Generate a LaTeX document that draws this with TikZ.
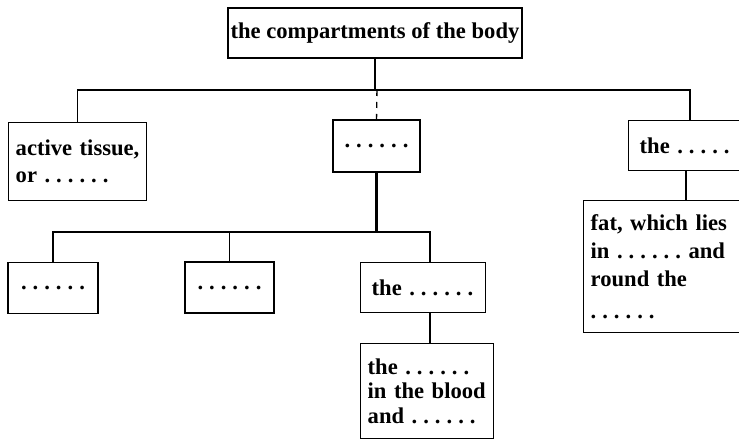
\documentclass[tikz,border=0pt]{standalone}
\usepackage{fontspec}
\setmainfont{Liberation Serif}
\usetikzlibrary{calc}
\newcommand{\blankdots}{\mbox{.\hspace{3pt}.\hspace{3pt}.\hspace{3pt}.\hspace{3pt}.\hspace{3pt}.}}
\tikzset{
  box/.style={draw,line width=0.7pt,inner sep=0pt,align=center,
    font=\fontsize{11.3}{13.5}\selectfont\bfseries},
  lbox/.style={box,align=left,inner sep=3.5pt,anchor=north west},
  link/.style={line width=0.7pt},
  bus/.style={line width=0.6pt}
}
\begin{document}
\begin{tikzpicture}[x=0.5pt,y=-0.5pt]
 \useasboundingbox (0,0) rectangle (739,448);
 \clip (0,0) rectangle (739,448);
 % first level
 \node[box,minimum width=147pt,minimum height=25pt] (body) at (375,33)
   {the compartments of the body};
 \node[lbox,minimum height=39pt,text width=62pt] (active) at (8,122)
   {active tissue,\\ or \blankdots};
 \node[box,minimum width=43.5pt,minimum height=26pt] (middle) at (376.5,146) {\blankdots};
 % these two run past the page edge
 \node[lbox,minimum height=25pt,text width=70pt,inner xsep=5.5pt] (right) at (628,120)
   {the \mbox{.\hspace{3pt}.\hspace{3pt}.\hspace{3pt}.\hspace{3pt}.}};
 \node[lbox,minimum height=66pt,text width=80pt,
   font=\fontsize{11.3}{14}\selectfont\bfseries] (fat) at (583,200)
   {\makebox[72pt][s]{fat, which lies}\\ \makebox[72pt][s]{in \blankdots\ and}\\
    round the\\[2pt] \blankdots};
 % second level
 \node[box,minimum width=45pt,minimum height=25.5pt] (lowa) at (53,288) {\blankdots};
 \node[box,minimum width=44.5pt,minimum height=25.5pt] (lowb) at (229.5,287.5) {\blankdots};
 \node[lbox,minimum height=25pt,text width=51.5pt,inner xsep=5.5pt] (lowc) at (360,262)
   {the \blankdots};
 \node[lbox,minimum height=47.5pt,text width=59.5pt,
   font=\fontsize{11.3}{12.3}\selectfont\bfseries] (blood) at (360,343)
   {the \blankdots\\ in the blood\\ and \blankdots};
 % connectors
 \coordinate (bus1) at (377,90);
 \coordinate (bus2) at (379,232);
 \coordinate (rtop) at ($(right.north west)+(62,0)$);
 \coordinate (rbot) at ($(right.south west)+(58,0)$);
 \coordinate (ctop) at ($(lowc.north west)+(70,0)$);
 \coordinate (cbot) at ($(lowc.south west)+(70,0)$);
 \draw[link] (body.south) -- (body.south |- bus1);
 \draw[bus] (active.north) |- (bus1) -| (rtop);
 \draw[link,dashed] (bus1) -- (middle.north);
 \draw[link,line width=1.2pt] (middle.south) -- (middle.south |- bus2);
 \draw[bus] (lowa.north) |- (bus2) -| (ctop);
 \draw[link] (lowb.north) -- (lowb.north |- bus2);
 \draw[link] (cbot) -- (cbot |- blood.north);
 \draw[link,line width=1.1pt] (rbot) -- (rbot |- fat.north);
\end{tikzpicture}
\end{document}
